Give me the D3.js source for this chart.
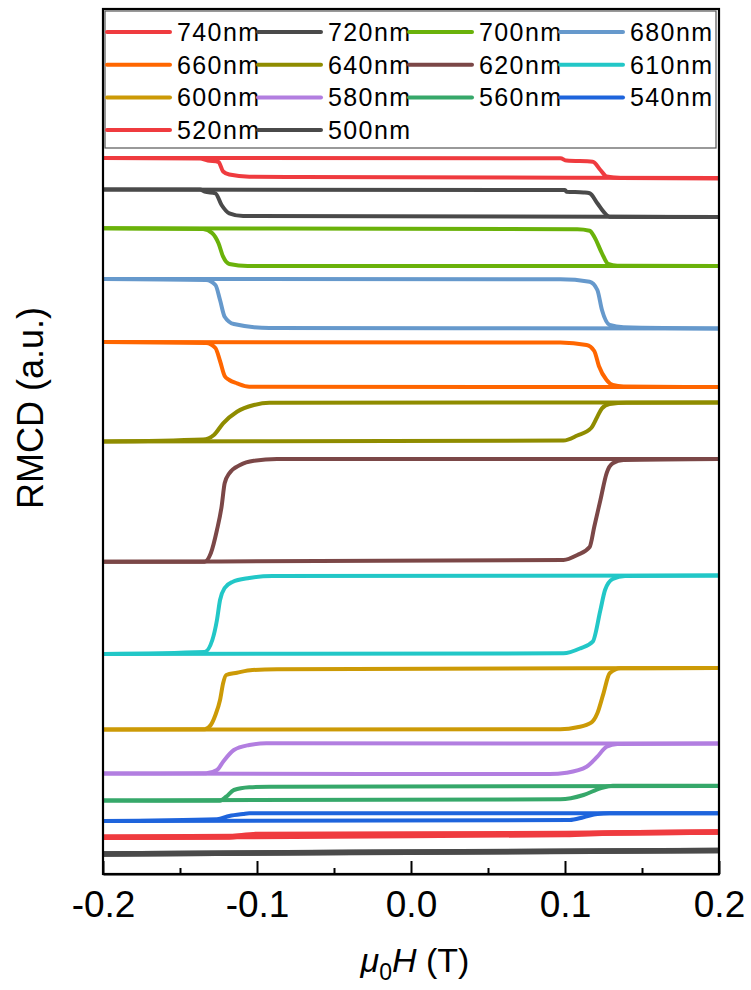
<!DOCTYPE html>
<html>
<head>
<meta charset="utf-8">
<script src="https://cdn.jsdelivr.net/npm/d3@7"></script>
<style>
  body { margin: 0; background: #fff; }
  svg text { font-family: "Liberation Sans", Arial, sans-serif; fill: #000; }
</style>
</head>
<body>
<div id="graph"></div>
<script>
// legend / series order, top curve first
var labels = ["740nm","720nm","700nm","680nm","660nm","640nm","620nm","610nm","600nm","580nm","560nm","540nm","520nm","500nm"];
var colors = ["#ef3b3f","#4a4a4a","#6ab20a","#6699cc","#ff6600","#8f8c00","#7b4747","#22c7c7","#cc9a06","#b27ee0","#36a86a","#1e64dc","#ef3b3f","#4a4a4a"];

var xTicks = [-0.2, -0.1, 0.0, 0.1, 0.2];
var xMinor = [-0.15, -0.05, 0.05, 0.15];

// each loop: branch A switches near +0.12 T, branch B near -0.12 T  ([field (T), RMCD (a.u.)])
var nm740A = [[-0.2,71.6],[0.097,71.57],[0.101,71.35],[0.118,71.23],[0.123,70.4],[0.127,69.75],[0.136,69.6],[0.2,69.55]];
var nm740B = [[-0.2,71.6],[-0.137,71.55],[-0.132,71.35],[-0.125,71.2],[-0.122,70.25],[-0.118,69.95],[-0.105,69.73],[-0.072,69.7],[0.2,69.6]];
var nm720A = [[-0.2,68.45],[0.1,68.4],[0.101,68.23],[0.112,68.15],[0.116,68.07],[0.121,67.07],[0.125,66.23],[0.129,65.73],[0.2,65.7]];
var nm720B = [[-0.2,68.45],[-0.137,68.45],[-0.134,68.23],[-0.127,68.07],[-0.123,66.9],[-0.118,66.07],[-0.109,65.8],[0.2,65.7]];
var nm700A = [[-0.2,64.57],[0.108,64.47],[0.116,64.33],[0.119,63.73],[0.124,62.07],[0.128,61.0],[0.134,60.83],[0.2,60.8]];
var nm700B = [[-0.2,64.57],[-0.135,64.5],[-0.129,64.07],[-0.125,63.07],[-0.122,61.73],[-0.118,61.0],[-0.106,60.8],[0.2,60.8]];
var nm680A = [[-0.2,59.5],[0.097,59.47],[0.116,59.23],[0.121,58.4],[0.124,56.4],[0.129,54.9],[0.138,54.67],[0.2,54.55]];
var nm680B = [[-0.2,59.5],[-0.133,59.4],[-0.127,58.9],[-0.124,57.4],[-0.121,55.73],[-0.115,55.0],[-0.092,54.6],[0.2,54.55]];
var nm660A = [[-0.2,53.2],[0.097,53.15],[0.114,52.9],[0.119,52.3],[0.122,50.8],[0.127,49.4],[0.131,48.9],[0.138,48.75],[0.2,48.7]];
var nm660B = [[-0.2,53.2],[-0.133,53.1],[-0.127,52.6],[-0.124,51.3],[-0.121,49.8],[-0.118,49.4],[-0.113,49.07],[-0.105,48.73],[0.2,48.7]];
var nm640A = [[-0.2,43.25],[0.099,43.35],[0.108,43.85],[0.117,44.6],[0.121,45.73],[0.124,46.57],[0.129,47.0],[0.14,47.13],[0.2,47.15]];
var nm640B = [[-0.2,43.25],[-0.135,43.45],[-0.128,43.9],[-0.122,45.07],[-0.113,46.23],[-0.102,46.9],[-0.092,47.13],[0.2,47.15]];
var nm620A = [[-0.2,31.23],[0.099,31.4],[0.108,31.9],[0.116,32.7],[0.119,34.73],[0.123,37.4],[0.127,40.07],[0.131,41.07],[0.138,41.4],[0.2,41.5]];
var nm620B = [[-0.2,31.23],[-0.134,31.23],[-0.13,32.07],[-0.126,34.4],[-0.123,36.73],[-0.121,39.07],[-0.118,40.07],[-0.111,40.9],[-0.102,41.33],[-0.087,41.5],[0.2,41.5]];
var nm610A = [[-0.2,22.0],[0.099,22.07],[0.11,22.57],[0.118,23.23],[0.123,26.4],[0.126,28.4],[0.131,29.5],[0.139,29.8],[0.2,29.85]];
var nm610B = [[-0.2,22.0],[-0.134,22.2],[-0.129,23.4],[-0.126,25.4],[-0.124,27.4],[-0.121,28.6],[-0.116,29.2],[-0.105,29.6],[-0.09,29.8],[0.2,29.85]];
var nm600A = [[-0.2,14.45],[0.097,14.47],[0.108,14.67],[0.117,15.13],[0.121,16.07],[0.125,18.07],[0.129,20.07],[0.136,20.57],[0.2,20.6]];
var nm600B = [[-0.2,14.45],[-0.134,14.47],[-0.13,14.9],[-0.127,15.9],[-0.124,17.4],[-0.122,19.07],[-0.12,19.9],[-0.113,20.13],[-0.103,20.4],[-0.087,20.47],[0.2,20.6]];
var nm580A = [[-0.2,10.05],[0.09,10.0],[0.101,10.13],[0.114,10.73],[0.121,11.73],[0.127,12.73],[0.134,13.0],[0.2,13.05]];
var nm580B = [[-0.2,10.05],[-0.133,10.07],[-0.126,10.4],[-0.122,11.23],[-0.115,12.4],[-0.105,12.9],[-0.094,13.07],[0.2,13.05]];
var nm560A = [[-0.2,7.35],[0.097,7.47],[0.112,7.9],[0.123,8.57],[0.131,8.83],[0.2,8.83]];
var nm560B = [[-0.2,7.35],[-0.124,7.33],[-0.12,7.73],[-0.115,8.4],[-0.105,8.67],[-0.092,8.73],[0.2,8.8]];
var nm540A = [[-0.2,5.3],[0.103,5.4],[0.112,5.67],[0.121,6.0],[0.129,6.07],[0.2,6.07]];
var nm540B = [[-0.2,5.3],[-0.126,5.47],[-0.118,5.8],[-0.109,6.0],[-0.105,6.07],[0.2,6.07]];
var nm520A = [[-0.2,3.67],[0.0,3.85],[0.1,3.95],[0.13,4.1],[0.2,4.2]];
var nm520B = [[-0.2,3.67],[-0.12,3.7],[-0.1,3.95],[0.1,4.05],[0.2,4.2]];
var nm500A = [[-0.2,2.0],[0.0,2.2],[0.2,2.35]];
var nm500B = [[-0.2,2.0],[-0.1,2.1],[0.2,2.35]];

var loops = [[nm740A,nm740B],[nm720A,nm720B],[nm700A,nm700B],[nm680A,nm680B],[nm660A,nm660B],
             [nm640A,nm640B],[nm620A,nm620B],[nm610A,nm610B],[nm600A,nm600B],[nm580A,nm580B],
             [nm560A,nm560B],[nm540A,nm540B],[nm520A,nm520B],[nm500A,nm500B]];

var margin = {top: 9, right: 32, bottom: 116, left: 103},
    width = 751, height = 990;

var svg = d3.select("#graph").append("svg")
    .attr("width", width)
    .attr("height", height);

var x = d3.scaleLinear().domain([-0.2, 0.2]).range([margin.left, width - margin.right]);
var y = d3.scaleLinear().domain([0, 86.5]).range([height - margin.bottom, margin.top]);

var valueline = d3.line()
    .x(function(d) { return x(d[0]); })
    .y(function(d) { return y(d[1]); })
    .curve(d3.curveMonotoneX);

var plot = svg.append("g");
loops.forEach(function(pair, i) {
  var sw = (i >= 12) ? 5.5 : 4;
  pair.forEach(function(branch) {
    plot.append("path")
      .attr("d", valueline(branch))
      .attr("stroke", colors[i])
      .attr("stroke-width", sw)
      .attr("stroke-linejoin", "round")
      .attr("fill", "none");
  });
});

// frame
svg.append("rect")
  .attr("x", x(-0.2)).attr("y", margin.top)
  .attr("width", x(0.2) - x(-0.2)).attr("height", y(0) - margin.top)
  .attr("fill", "none").attr("stroke", "#000").attr("stroke-width", 2.2);

// x axis, inward ticks
var axisG = svg.append("g")
  .attr("transform", "translate(0," + y(0) + ")")
  .call(d3.axisBottom(x).tickValues(xTicks).tickSize(-13).tickSizeOuter(0).tickPadding(17)
        .tickFormat(function(d) { return d.toFixed(1); }));
axisG.select(".domain").attr("stroke-width", 2.2);
axisG.selectAll(".tick line").attr("stroke-width", 2);
axisG.selectAll("text").style("font-size", "37px").style("font-family", "Liberation Sans, Arial, sans-serif");

var minorG = svg.append("g")
  .attr("transform", "translate(0," + y(0) + ")")
  .call(d3.axisBottom(x).tickValues(xMinor).tickSize(-6).tickFormat(""));
minorG.select(".domain").remove();
minorG.selectAll(".tick line").attr("stroke-width", 2);

// axis titles
var xt = svg.append("text")
  .attr("x", 415).attr("y", 972)
  .attr("text-anchor", "middle")
  .style("font-size", "34px");
xt.append("tspan").style("font-style", "italic").text("\u03bc");
xt.append("tspan").attr("dy", 8).style("font-size", "23px").text("0");
xt.append("tspan").attr("dy", -8).style("font-style", "italic").text("H");
xt.append("tspan").text(" (T)");

svg.append("text")
  .attr("transform", "translate(43,408) rotate(-90)")
  .attr("text-anchor", "middle")
  .style("font-size", "36px")
  .text("RMCD (a.u.)");

// legend
svg.append("rect")
  .attr("x", 105).attr("y", 11)
  .attr("width", 611).attr("height", 137)
  .attr("fill", "#fff").attr("stroke", "#555").attr("stroke-width", 1.2);

var legend = svg.append("g");
labels.forEach(function(name, i) {
  var col = i % 4, row = Math.floor(i / 4);
  var lx = 107 + col * 151, ly = 32 + row * 32.7;
  legend.append("line")
    .attr("x1", lx).attr("x2", lx + 63)
    .attr("y1", ly).attr("y2", ly)
    .attr("stroke", colors[i]).attr("stroke-width", 4)
    .attr("stroke-linecap", "round");
  legend.append("text")
    .attr("x", lx + 70).attr("y", ly)
    .attr("dy", "0.36em")
    .style("font-size", "25px")
    .style("letter-spacing", "1.4px")
    .text(name);
});
</script>
</body>
</html>
